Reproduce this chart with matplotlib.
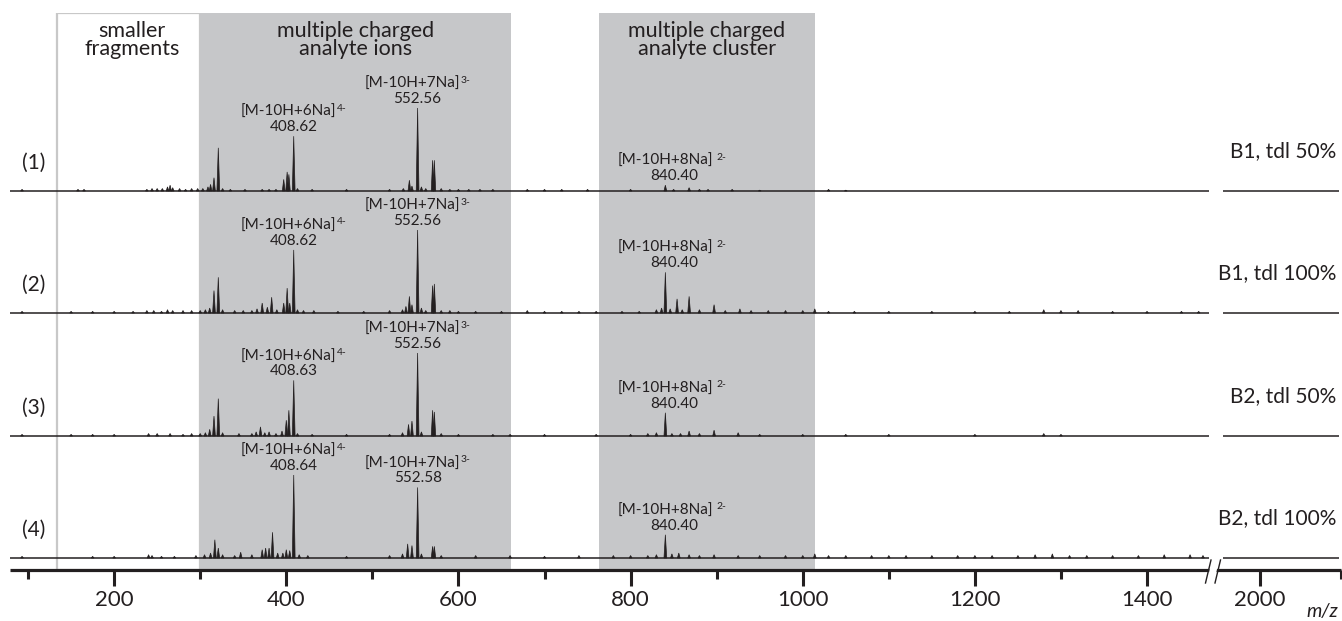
import matplotlib.pyplot as plt
from matplotlib.patches import Rectangle, Polygon
from matplotlib.ticker import FixedLocator

plt.rcParams['font.family'] = ['Lato', 'DejaVu Sans']

INK = '#231f20'
BAND = '#c6c7c9'
FRAME = '#c8c8c8'

# peak lists per spectrum: m/z and relative intensity (%)
spec1_mz = [93, 158, 165, 238, 244, 250, 256, 262, 265, 268, 276, 283, 290, 297, 303, 309,
            312, 316, 321, 326, 335, 352, 372, 380, 388, 397, 401, 403, 408.62, 413, 430,
            470, 520, 536, 543, 546, 552.56, 557, 562, 570, 572, 580, 590, 600, 612, 625,
            640, 680, 700, 720, 750, 800, 840.40, 850, 868, 880, 890, 918, 950, 1030, 1050]
spec1_int = [2, 2, 2, 2, 3, 3, 3, 5, 7, 4, 3, 2, 3, 3, 3, 5,
             8, 16, 52, 3, 2, 2, 2, 2, 2, 14, 23, 20, 66, 3, 2,
             2, 2, 3, 13, 6, 100, 5, 3, 37, 37, 3, 2, 2, 2, 2,
             2, 2, 2, 2, 2, 2, 7, 2, 4, 2, 2, 2, 1, 2, 1]

spec2_mz = [93, 150, 175, 200, 222, 238, 246, 255, 262, 268, 280, 290, 300, 306, 311, 316,
            321, 326, 340, 350, 360, 366, 372, 378, 383, 389, 397, 401, 404, 408.62, 413,
            420, 432, 460, 490, 520, 535, 539, 543, 546, 552.56, 557, 562, 570, 572, 580,
            590, 600, 620, 650, 680, 700, 720, 740, 760, 790, 810, 830, 836, 840.40, 846,
            854, 860, 868, 880, 897, 910, 927, 940, 960, 980, 1000, 1014, 1030, 1060, 1100,
            1150, 1200, 1240, 1280, 1300, 1320, 1360, 1400, 1440, 1460]
spec2_int = [2, 2, 2, 2, 2, 3, 3, 2, 4, 3, 3, 3, 3, 4, 6, 27,
             43, 4, 3, 3, 3, 5, 12, 7, 19, 4, 12, 30, 12, 76, 4,
             3, 3, 2, 2, 3, 4, 8, 20, 10, 100, 6, 3, 33, 35, 3,
             3, 2, 2, 2, 3, 2, 2, 2, 2, 2, 2, 4, 6, 49, 5,
             17, 4, 20, 4, 10, 3, 5, 3, 3, 3, 3, 5, 2, 2, 2,
             2, 2, 2, 4, 3, 3, 2, 2, 2, 2]

spec3_mz = [93, 150, 175, 200, 240, 250, 265, 280, 290, 300, 306, 311, 316, 321, 326, 345,
            360, 365, 370, 375, 380, 388, 395, 400, 403, 408.63, 413, 430, 470, 520, 535,
            542, 546, 552.56, 557, 570, 572, 580, 600, 640, 660, 700, 760, 800, 820, 830,
            840.40, 848, 858, 868, 880, 897, 925, 950, 1000, 1050, 1100, 1200, 1280, 1300]
spec3_int = [2, 2, 2, 2, 3, 3, 3, 2, 3, 3, 4, 8, 24, 45, 4, 3,
             3, 5, 11, 4, 5, 3, 6, 19, 31, 67, 3, 2, 2, 2, 4,
             14, 18, 100, 5, 31, 29, 3, 2, 2, 2, 2, 2, 2, 3, 4,
             28, 3, 3, 6, 3, 7, 4, 2, 2, 2, 2, 2, 3, 2]

spec4_mz = [93, 175, 200, 240, 244, 255, 270, 295, 305, 312, 317, 321, 326, 340, 347, 360,
            372, 376, 380, 384, 390, 396, 400, 404, 408.64, 415, 425, 470, 520, 535, 541,
            546, 552.58, 557, 570, 572, 580, 620, 660, 700, 740, 780, 800, 820, 830, 840.40,
            848, 856, 868, 880, 897, 925, 950, 980, 1000, 1014, 1030, 1050, 1080, 1100, 1120,
            1150, 1180, 1200, 1220, 1250, 1270, 1290, 1310, 1330, 1360, 1390, 1420, 1450, 1465]
spec4_int = [2, 2, 2, 4, 3, 2, 2, 3, 4, 6, 22, 12, 4, 3, 7, 4,
             10, 12, 12, 31, 6, 6, 10, 9, 100, 4, 3, 2, 3, 5, 17,
             15, 85, 5, 14, 14, 3, 3, 3, 2, 3, 3, 3, 3, 4, 28,
             5, 6, 4, 3, 4, 3, 3, 3, 3, 5, 3, 3, 3, 3, 3,
             3, 3, 3, 3, 3, 4, 5, 3, 3, 3, 3, 4, 4, 3]

samples = ['(1)', '(2)', '(3)', '(4)']
conditions = ['B1, tdl 50%', 'B1, tdl 100%', 'B2, tdl 50%', 'B2, tdl 100%']

# labelled ions: spectrum index, m/z, ion, charge
ion_spec = [0, 0, 0, 1, 1, 1, 2, 2, 2, 3, 3, 3]
ion_mz = [408.62, 552.56, 840.40, 408.62, 552.56, 840.40,
          408.63, 552.56, 840.40, 408.64, 552.58, 840.40]
ion_name = ['[M-10H+6Na]', '[M-10H+7Na]', '[M-10H+8Na]'] * 4
ion_charge = ['4-', '3-', '2-'] * 4

# shaded m/z regions
region_lo = [300, 763]
region_hi = [661, 1014]
region_names = ['multiple charged\nanalyte ions', 'multiple charged\nanalyte cluster']
frag_lo, frag_hi = 134, 300

spectra = [(spec1_mz, spec1_int), (spec2_mz, spec2_int),
           (spec3_mz, spec3_int), (spec4_mz, spec4_int)]

W, H = 1342, 621
PX = 0.72                      # points per pixel at 100 dpi
base = [379, 257, 134, 12]     # baseline height of each trace above the axis
SCALE = 0.83                   # pixels per % intensity
HW = 1.6                       # half width of a peak in m/z

fig = plt.figure(figsize=(W / 100, H / 100), dpi=100)
ax = fig.add_axes([10 / W, 1 - 570 / H, 1199 / W, 557 / H])
ax2 = fig.add_axes([1214 / W, 1 - 570 / H, 127 / W, 557 / H])
for a in (ax, ax2):
    a.set_ylim(0, 557)
    a.patch.set_alpha(0)
    for side in ('left', 'right', 'top'):
        a.spines[side].set_visible(False)
    a.spines['bottom'].set_linewidth(2.3)
    a.spines['bottom'].set_color(INK)
    a.spines['bottom'].set_capstyle('butt')
    a.set_yticks([])
    a.tick_params(axis='x', which='major', length=11.5, width=2.2, pad=3,
                  labelsize=16, colors=INK)
    a.tick_params(axis='x', which='minor', length=6.5, width=2.2, colors=INK)

ax.set_xlim(79, 1472)
ax.set_xticks([200, 400, 600, 800, 1000, 1200, 1400])
ax.xaxis.set_minor_locator(FixedLocator([100, 300, 500, 700, 900, 1100, 1300]))
ax2.set_xlim(1944, 2100)
ax2.set_xticks([2000])
ax2.xaxis.set_minor_locator(FixedLocator([2100]))

# fragment box and shaded bands
ax.add_patch(Rectangle((frag_lo, 0), frag_hi - frag_lo, 557, facecolor='white',
                       edgecolor=FRAME, lw=1.6, zorder=0.5))
ax.text((frag_lo + frag_hi) / 2 + 4, 530, 'smaller\nfragments', ha='center', va='center',
        fontsize=15.5, color=INK, linespacing=0.85)
for lo, hi, name in zip(region_lo, region_hi, region_names):
    ax.axvspan(lo, hi, color=BAND, lw=0, zorder=0.6)
    ax.text((lo + hi) / 2, 530, name, ha='center', va='center', fontsize=15.5,
            color=INK, linespacing=0.85)

# traces
for (mz, inten), y0, tag, cond in zip(spectra, base, samples, conditions):
    ax.plot([79, 1472], [y0, y0], color=INK, lw=1.1, solid_capstyle='butt', zorder=2)
    ax2.plot([1955, 2097], [y0, y0], color=INK, lw=1.1, solid_capstyle='butt', zorder=2)
    for m, v in zip(mz, inten):
        ax.fill([m - HW, m, m + HW], [y0, y0 + v * SCALE, y0], color=INK, lw=0.5, zorder=2)
    ax.text(0.02, y0 + 28, tag, transform=ax.get_yaxis_transform(), ha='center',
            va='center', fontsize=15, color=INK)
    ax2.text(0.965, y0 + 40, cond, transform=ax2.get_yaxis_transform(), ha='right',
             va='center', fontsize=15, color=INK)

# ion labels above their peaks
for s, m, name, z in zip(ion_spec, ion_mz, ion_name, ion_charge):
    mz, inten = spectra[s]
    top = base[s] + inten[mz.index(m)] * SCALE
    cluster = m > 800
    num_dx = 9 if cluster else 0
    br_dx = 0 if cluster else -5
    ax.annotate(f'{m:.2f}', xy=(m, top), xytext=(num_dx * PX, 9 * PX),
                textcoords='offset points', ha='center', va='center',
                fontsize=11, color=INK, zorder=3)
    br = ax.annotate(name, xy=(m, top), xytext=(br_dx * PX, 24 * PX),
                     textcoords='offset points', ha='center', va='center',
                     fontsize=11, color=INK, zorder=3)
    ax.annotate(z, xy=(1, 1), xycoords=br, xytext=((3 if cluster else 0) * PX, 1),
                textcoords='offset points', ha='left', va='top',
                fontsize=7.5, color=INK, zorder=3)

# axis break marks, drawn in pixel space
over = fig.add_axes([0, 0, 1, 1])
over.set_xlim(0, W)
over.set_ylim(H, 0)
over.axis('off')
over.add_patch(Polygon([[1207, 583], [1212, 560], [1219, 560], [1214, 583]],
                       closed=True, facecolor='white', edgecolor='none'))
over.plot([1205.5, 1211], [583, 560], color=INK, lw=1.0)
over.plot([1215, 1220.5], [583, 560], color=INK, lw=1.0)

fig.text(1338 / W, 1 - 612 / H, 'm/z', style='italic', ha='right', va='center',
         fontsize=14, color=INK)

fig.savefig('out.png', dpi=100)
